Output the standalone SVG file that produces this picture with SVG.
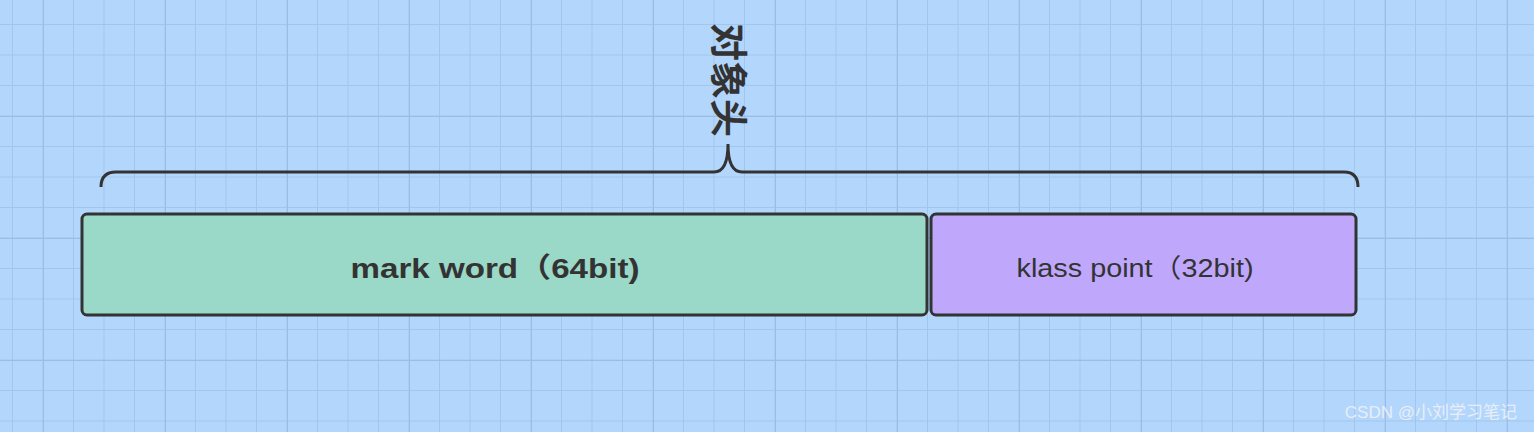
<svg xmlns="http://www.w3.org/2000/svg" width="1534" height="432" viewBox="0 0 1534 432">
<defs>
<pattern id="g" x="12" y="24" width="30.5" height="30.5" patternUnits="userSpaceOnUse">
<path d="M0 0H30.5M0 0V30.5" stroke="#a3c5ec" stroke-width="2" fill="none"/>
</pattern>
<pattern id="G" x="43" y="116" width="122" height="122" patternUnits="userSpaceOnUse">
<path d="M0 0H122M0 0V122" stroke="#9bbde4" stroke-width="2" fill="none"/>
</pattern>
</defs>
<style>
.box{stroke:#333;stroke-width:3}
.t{font-family:"Liberation Sans","Noto Sans CJK SC",sans-serif;fill:#333}
</style>
<rect width="1534" height="432" fill="#b3d6fd"/>
<rect width="1534" height="432" fill="url(#g)"/>
<rect width="1534" height="432" fill="url(#G)"/>
<g id="connectors">
<path d="M101 187Q101 172 116 172H714Q728 172 728 144Q728 172 742 172H1344Q1358 172 1358 187" fill="none" stroke="#333" stroke-width="3"/>
</g>
<g id="label">
<text class="t" transform="translate(728 80) rotate(90)" text-anchor="middle" dominant-baseline="central" font-size="38" font-weight="bold">对象头</text>
</g>
<g id="mark">
<rect class="box" x="82" y="214" width="845" height="101" rx="5" fill="#9ad8c7"/>
<text class="t" x="495" y="278" text-anchor="middle" font-size="28" font-weight="bold" textLength="289" lengthAdjust="spacingAndGlyphs">mark word（64bit)</text>
</g>
<g id="klass">
<rect class="box" x="931" y="214" width="425" height="101" rx="5" fill="#bfa8fc"/>
<text class="t" x="1135" y="277" text-anchor="middle" font-size="26" textLength="237" lengthAdjust="spacingAndGlyphs">klass point（32bit)</text>
</g>
<text x="1517" y="418" text-anchor="end" font-size="17" fill="#e8eef6" font-family="Liberation Sans,Noto Sans CJK SC,sans-serif">CSDN @小刘学习笔记</text>
</svg>
